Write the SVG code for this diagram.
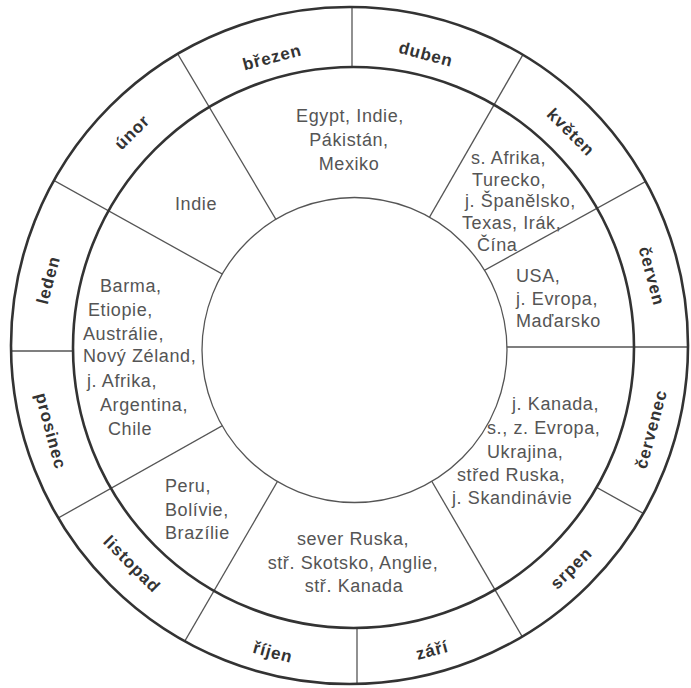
<svg xmlns="http://www.w3.org/2000/svg" width="691" height="688" viewBox="0 0 691 688">
<style>
.bg{fill:#ffffff}
.thick{fill:none;stroke:#333;stroke-width:2.6}
.thin{stroke:#555;stroke-width:1.3;fill:none}
.month{font-family:"Liberation Sans",Arial,sans-serif;font-weight:bold;font-size:17px;letter-spacing:0.9px;fill:#333;text-anchor:middle}
.reg{font-family:"Liberation Sans",Arial,sans-serif;font-size:18px;letter-spacing:0.6px;fill:#555}
.mid{text-anchor:middle}
</style>
<defs>
<clipPath id="disk"><circle cx="349.5" cy="345.5" r="338.5"/></clipPath>
<clipPath id="ring"><path clip-rule="evenodd" d="M11,345.5 a338.5,338.5 0 1,0 677,0 a338.5,338.5 0 1,0 -677,0 Z M73,347.5 a280.5,280.5 0 1,0 561,0 a280.5,280.5 0 1,0 -561,0 Z"/></clipPath>
</defs>
<rect class="bg" x="0" y="0" width="691" height="688"/>
<g id="connectors">
<g clip-path="url(#disk)" class="thin">
<line x1="151" y1="9" x2="303" y2="265"/>
<line x1="8" y1="155" x2="269" y2="300"/>
<line x1="540" y1="25" x2="402" y2="265"/>
<line x1="681" y1="162" x2="436" y2="297"/>
<line x1="480" y1="347" x2="700" y2="347"/>
<line x1="562" y1="705" x2="413" y2="449"/>
<line x1="157" y1="689" x2="305" y2="434"/>
<line x1="12" y1="544" x2="268" y2="400"/>
</g>
<circle id="center" cx="354.5" cy="350" r="152.5" class="thin" style="fill:#fff"/>
<g clip-path="url(#ring)" class="thin">
<line x1="352" y1="0" x2="352" y2="120"/>
<line x1="0" y1="351" x2="120" y2="351"/>
<line x1="357" y1="580" x2="357" y2="700"/>
<line x1="702" y1="546" x2="558" y2="466"/>
</g>
<circle class="thick" cx="349.5" cy="345.5" r="338.5"/>
<circle class="thick" cx="353.5" cy="347.5" r="280.5"/>
</g>
<g id="m-brezen"><text class="month" transform="translate(272,57) rotate(-15)" dy="0.35em">březen</text></g>
<g id="m-duben"><text class="month" transform="translate(426,54) rotate(15)" dy="0.35em">duben</text></g>
<g id="m-kveten"><text class="month" transform="translate(571,132) rotate(45)" dy="0.35em">květen</text></g>
<g id="m-cerven"><text class="month" transform="translate(652,276) rotate(75)" dy="0.35em">červen</text></g>
<g id="m-cervenec"><text class="month" transform="translate(651,429) rotate(-75)" dy="0.35em">červenec</text></g>
<g id="m-srpen"><text class="month" transform="translate(571,568) rotate(-45)" dy="0.35em">srpen</text></g>
<g id="m-zari"><text class="month" transform="translate(432,650) rotate(-15)" dy="0.35em">září</text></g>
<g id="m-rijen"><text class="month" transform="translate(273,652) rotate(15)" dy="0.35em">říjen</text></g>
<g id="m-listopad"><text class="month" transform="translate(132,564) rotate(45)" dy="0.35em">listopad</text></g>
<g id="m-prosinec"><text class="month" transform="translate(51,431) rotate(75)" dy="0.35em">prosinec</text></g>
<g id="m-leden"><text class="month" transform="translate(48,280) rotate(-75)" dy="0.35em">leden</text></g>
<g id="m-unor"><text class="month" transform="translate(132,132) rotate(-45)" dy="0.35em">únor</text></g>
<g id="r-egypt"><text class="reg mid"><tspan x="350" y="122">Egypt, Indie,</tspan><tspan x="349" y="146">Pákistán,</tspan><tspan x="349" y="170">Mexiko</tspan></text></g>
<g id="r-indie"><text class="reg mid" x="196" y="210">Indie</text></g>
<g id="r-afrika"><text class="reg"><tspan x="471" y="164">s. Afrika,</tspan><tspan x="472" y="186">Turecko,</tspan><tspan x="465" y="207">j. Španělsko,</tspan><tspan x="462" y="229">Texas, Irák,</tspan><tspan x="477" y="251">Čína</tspan></text></g>
<g id="r-usa"><text class="reg"><tspan x="516" y="282">USA,</tspan><tspan x="516" y="305">j. Evropa,</tspan><tspan x="516" y="327">Maďarsko</tspan></text></g>
<g id="r-barma"><text class="reg"><tspan x="100" y="292">Barma,</tspan><tspan x="88" y="316">Etiopie,</tspan><tspan x="83" y="340">Austrálie,</tspan><tspan x="83" y="362">Nový Zéland,</tspan><tspan x="87" y="387">j. Afrika,</tspan><tspan x="100" y="411">Argentina,</tspan><tspan x="108" y="435">Chile</tspan></text></g>
<g id="r-peru"><text class="reg"><tspan x="165" y="492">Peru,</tspan><tspan x="165" y="516">Bolívie,</tspan><tspan x="165" y="539">Brazílie</tspan></text></g>
<g id="r-sever"><text class="reg mid"><tspan x="353" y="545">sever Ruska,</tspan><tspan x="353" y="569">stř. Skotsko, Anglie,</tspan><tspan x="354" y="592">stř. Kanada</tspan></text></g>
<g id="r-kanada"><text class="reg"><tspan x="512" y="410">j. Kanada,</tspan><tspan x="487" y="434">s., z. Evropa,</tspan><tspan x="487" y="458">Ukrajina,</tspan><tspan x="457" y="481">střed Ruska,</tspan><tspan x="452" y="504">j. Skandinávie</tspan></text></g>
</svg>
